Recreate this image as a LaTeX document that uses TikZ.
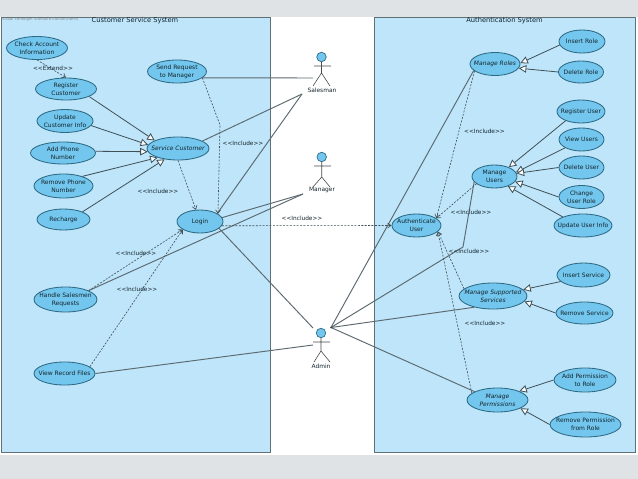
\documentclass[tikz,border=0pt]{standalone}
\usepackage{fontspec}
\setmainfont{DejaVu Sans}
\usetikzlibrary{shapes.geometric,arrows.meta}
\definecolor{pagegray}{HTML}{DFE3E6}
\definecolor{panelfill}{HTML}{BEE5FA}
\definecolor{panelline}{HTML}{5F7077}
\definecolor{ucfill}{HTML}{73C7EE}
\definecolor{ucline}{HTML}{2F6A85}
\definecolor{inkline}{HTML}{3F4F56}
\definecolor{txt}{HTML}{14242C}
\newcommand{\incltext}{<{}<Include>{}>}
\tikzset{
  x=1pt,y=-1pt,
  panel/.style={draw=panelline,fill=panelfill,line width=1pt},
  uc/.style={ellipse,draw=ucline,fill=ucfill,line width=.85pt,text=txt,align=center,
    inner xsep=-36pt,inner ysep=-12pt,font=\fontsize{6}{8}\selectfont},
  ucit/.style={uc,font=\fontsize{6}{8}\selectfont\itshape},
  title/.style={text=txt,font=\fontsize{6.7}{8}\selectfont},
  stereo/.style={text=txt,font=\fontsize{5.8}{7}\selectfont},
  assoc/.style={draw=inkline!85,line width=.95pt},
  gen/.style={draw=inkline,line width=.8pt,-{Triangle[open,fill=white,length=7.5pt,width=7.5pt]}},
  incl/.style={draw=inkline,line width=.6pt,dash pattern=on 2pt off 1.4pt,-{Straight Barb[length=3.5pt,width=5pt]}},
  head/.style={circle,draw=ucline,fill=ucfill,line width=.7pt,minimum size=9.5pt,inner sep=0pt},
  limb/.style={draw=black!70,line width=.6pt},
  actorname/.style={text=txt,font=\fontsize{5.9}{7}\selectfont},
}
\begin{document}
\begin{tikzpicture}
\useasboundingbox (0,0) rectangle (638,479);
\fill[pagegray] (0,0) rectangle (638,479);
\fill[white] (0,16.5) rectangle (638,455);
\draw[panel] (1.5,17.5) rectangle (270,452.7);
\draw[panel] (374,17.5) rectangle (635.5,452.7);
\node[text=black!45,anchor=west,inner sep=0pt,font=\fontsize{3.8}{4}\selectfont] (wm) at (2,19.5) {Visual Paradigm Standard Edition(Harris};
\node[title] (t1) at (135,21) {Customer Service System};
\node[title] (t2) at (504.5,21) {Authentication System};
% left use cases
\node[uc,minimum width=61pt,minimum height=23pt] (check) at (37,48) {Check Account\\Information};
\node[uc,minimum width=61pt,minimum height=22pt] (reg) at (66,89) {Register\\Customer};
\node[uc,minimum width=56pt,minimum height=23pt] (upd) at (65,121) {Update\\Customer Info};
\node[uc,minimum width=65pt,minimum height=22pt] (add) at (63,153) {Add Phone\\Number};
\node[uc,minimum width=59pt,minimum height=24pt] (rem) at (63.5,186) {Remove Phone\\Number};
\node[uc,minimum width=53pt,minimum height=21pt] (rech) at (63.5,219.5) {Recharge};
\node[uc,minimum width=59pt,minimum height=23pt] (send) at (177,71.5) {Send Request\\to Manager};
\node[ucit,minimum width=62pt,minimum height=23pt] (svc) at (178,148.5) {Service Customer};
\node[uc,minimum width=46pt,minimum height=23pt] (login) at (200,221.5) {Login};
\node[uc,minimum width=63pt,minimum height=25pt] (handle) at (65.5,299.5) {Handle Salesmen\\Requests};
\node[uc,minimum width=61pt,minimum height=23pt] (view) at (64.5,373.5) {View Record Files};
% right use cases
\node[ucit,minimum width=50pt,minimum height=23pt] (roles) at (495,64) {Manage Roles};
\node[uc,minimum width=46pt,minimum height=23pt] (insr) at (582,41.5) {Insert Role};
\node[uc,minimum width=45pt,minimum height=22pt] (delr) at (581,72) {Delete Role};
\node[uc,minimum width=48pt,minimum height=23pt] (regu) at (581,111.5) {Register User};
\node[uc,minimum width=45pt,minimum height=23pt] (viewu) at (581.5,139.5) {View Users};
\node[uc,minimum width=45pt,minimum height=23pt] (delu) at (581.5,167.5) {Delete User};
\node[uc,minimum width=45pt,minimum height=23pt] (chgu) at (581.5,197) {Change\\User Role};
\node[uc,minimum width=58pt,minimum height=23pt] (updu) at (583,225.5) {Update User Info};
\node[uc,minimum width=45pt,minimum height=23pt] (users) at (494.5,176.5) {Manage\\Users};
\node[uc,minimum width=49pt,minimum height=23pt] (auth) at (416.5,225.5) {Authenticate\\User};
\node[ucit,minimum width=68pt,minimum height=26pt] (supp) at (493,296) {Manage Supported\\Services};
\node[uc,minimum width=53pt,minimum height=24pt] (inss) at (583.5,275) {Insert Service};
\node[uc,minimum width=57pt,minimum height=22pt] (rems) at (584.5,313) {Remove Service};
\node[ucit,minimum width=61pt,minimum height=24pt] (perm) at (497.5,400) {Manage\\Permissions};
\node[uc,minimum width=62pt,minimum height=24pt] (addp) at (585,380) {Add Permission\\to Role};
\node[uc,minimum width=71pt,minimum height=25pt] (remp) at (585.5,424.5) {Remove Permission\\from Role};
% actors
\node[head] (sal) at (321.5,57) {};
\node[head] (mgr) at (321.7,157) {};
\node[head] (adm) at (321,333) {};
\coordinate (salW) at (314,66); \coordinate (salE) at (331,66); \coordinate (salH) at (321.5,73);
\coordinate (salL) at (313,86); \coordinate (salR) at (330,86);
\coordinate (mgrW) at (314,166); \coordinate (mgrE) at (331,166); \coordinate (mgrH) at (321.7,177);
\coordinate (mgrL) at (313,187); \coordinate (mgrR) at (330,187);
\coordinate (admW) at (313,342); \coordinate (admE) at (330,342); \coordinate (admH) at (321,351);
\coordinate (admL) at (314,362); \coordinate (admR) at (330,362);
\draw[limb] (sal) -- (salH) -- (salL) (salH) -- (salR) (salW) -- (salE);
\draw[limb] (mgr) -- (mgrH) -- (mgrL) (mgrH) -- (mgrR) (mgrW) -- (mgrE);
\draw[limb] (adm) -- (admH) -- (admL) (admH) -- (admR) (admW) -- (admE);
\node[actorname] (salN) at (322,90.5) {Salesman};
\node[actorname] (mgrN) at (322,190) {Manager};
\node[actorname] (admN) at (321,366) {Admin};
% free connector ends
\coordinate (salA) at (302,94); \coordinate (salB) at (313,78);
\coordinate (mgrA) at (303,194);
\coordinate (admA) at (313,328); \coordinate (admB) at (313,345); \coordinate (hub) at (331,327.5);
\coordinate (sendBend) at (220,125); \coordinate (usersBend) at (463,247);
% generalisations
\draw[gen] (reg.-18) -- (svc.161);
\draw[gen] (upd.-10) -- (svc.173);
\draw[gen] (add.3) -- (svc.186);
\draw[gen] (rem.27) -- (svc.204);
\draw[gen] (rech.22) -- (svc.219);
\draw[gen] (insr.189) -- (roles.2);
\draw[gen] (delr.180) -- (roles.-10);
\draw[gen] (regu.211) -- (users.33);
\draw[gen] (viewu.207) -- (users.11);
\draw[gen] (delu.180) -- (users.8);
\draw[gen] (chgu.180) -- (users.-14);
\draw[gen] (updu.157) -- (users.-36);
\draw[gen] (inss.196) -- (supp.12);
\draw[gen] (rems.180) -- (supp.-10);
\draw[gen] (addp.180) -- (perm.22);
\draw[gen] (remp.180) -- (perm.-20);
% associations
\draw[assoc] (send.-14) -- (salB);
\draw[assoc] (svc.17) -- (salA);
\draw[assoc] (login.25) -- (salA);
\draw[assoc] (login.10) -- (mgrA);
\draw[assoc] (handle.21) -- (mgrA);
\draw[assoc] (login.-20) -- (admA);
\draw[assoc] (view.0) -- (admB);
\draw[assoc] (hub) -- (roles.197);
\draw[assoc] (hub) -- (usersBend) -- (users.195);
\draw[assoc] (hub) -- (supp.211);
\draw[assoc] (hub) -- (perm.160);
\fill[black!75] (hub) circle (1pt);
% includes
\draw[incl] (check.-90) -- (reg.90);
\draw[incl] (send.-14) -- (sendBend) -- (login.23);
\draw[incl] (svc.-90) -- (login.109);
\draw[incl] (handle.21) -- (login.205);
\draw[incl] (view.15) -- (login.205);
\draw[incl] (login.-11) -- (auth.180);
\draw[incl] (roles.199) -- (auth.20);
\draw[incl] (users.202) -- (auth.20);
\draw[incl] (supp.166) -- (auth.-16);
\draw[incl] (perm.165) -- (auth.-16);
% labels
\node[stereo] (l1) at (53,68) {<{}<Extend>{}>};
\node[stereo] (l2) at (243,143) {\incltext};
\node[stereo] (l3) at (158,191) {\incltext};
\node[stereo] (l4) at (136,253) {\incltext};
\node[stereo] (l5) at (137,289) {\incltext};
\node[stereo] (l6) at (302,218) {\incltext};
\node[stereo] (l7) at (484.5,131.5) {\incltext};
\node[stereo] (l8) at (471,212.5) {\incltext};
\node[stereo] (l9) at (469,251) {\incltext};
\node[stereo] (l10) at (485,323) {\incltext};
\end{tikzpicture}
\end{document}
